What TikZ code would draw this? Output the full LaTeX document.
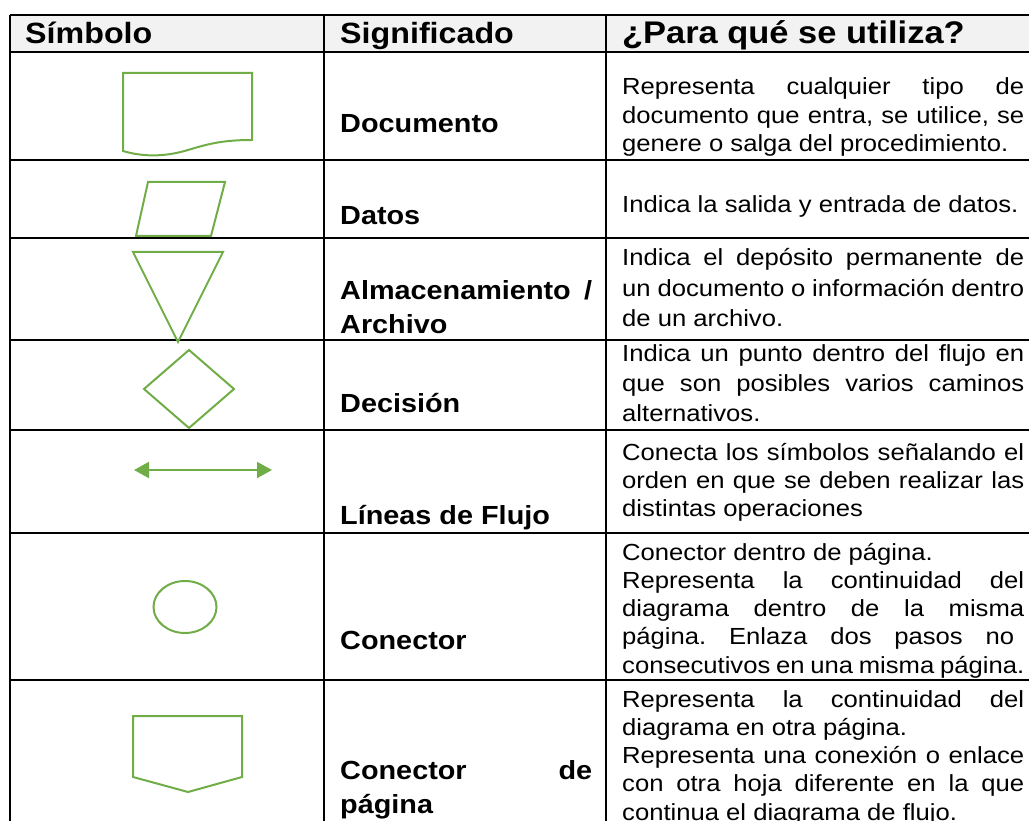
\documentclass[tikz,border=0pt]{standalone}
\usepackage{fontspec}
\setmainfont{Liberation Sans}[FakeStretch=1.10]
\usetikzlibrary{arrows.meta}
\definecolor{verde}{HTML}{70AD47}
\definecolor{gris}{HTML}{F2F2F2}
\hbadness=10000
\hyphenpenalty=10000
\frenchspacing
\begin{document}
\begin{tikzpicture}[x=1pt, y=-1pt,
    simbolo/.style={verde, line width=2pt},
    linea/.style={black, line width=2pt},
    cabecera/.style={anchor=base west, inner sep=0pt, font=\fontsize{29.3}{34}\selectfont\bfseries},
    nombre/.style={anchor=base west, inner sep=0pt, text width=252pt, align=justify, font=\fontsize{26.2}{34}\selectfont\bfseries},
    texto/.style={anchor=base west, inner sep=0pt, text width=402pt, align=justify, font=\fontsize{23.3}{28.3}\selectfont},
    texto ancho/.style={texto, font=\fontsize{23.3}{30.3}\selectfont}]
        % Definiciones
        \def\colA{10}
        \def\colB{324}
        \def\colC{606}
        \def\derecha{1029}
        \def\abajo{821}
        \def\xnombre{340}
        \def\xtexto{622}
        \useasboundingbox (0,0) rectangle (\derecha,\abajo);
        \clip (0,0) rectangle (\derecha,\abajo);
        % Cabecera
        \fill[gris] (\colA,15) rectangle (\derecha,52);
        \node[cabecera] (hSimbolo) at (25,44) {Símbolo};
        \node[cabecera] (hSignif) at (\xnombre,44) {Significado};
        \node[cabecera, font=\fontsize{31.3}{34}\selectfont\bfseries] (hUso) at (\xtexto,44) {¿Para qué se utiliza?};
        % Lineas de la tabla
        \draw[linea] (\colA,15) -- (\derecha,15);
        \draw[linea] (\colA,52) -- (\derecha,52);
        \draw[linea] (\colA,160) -- (\derecha,160);
        \draw[linea] (\colA,238) -- (\derecha,238);
        \draw[linea] (\colA,340) -- (\derecha,340);
        \draw[linea] (\colA,430) -- (\derecha,430);
        \draw[linea] (\colA,533) -- (\derecha,533);
        \draw[linea] (\colA,680) -- (\derecha,680);
        \draw[linea] (\colA,15) -- (\colA,\abajo);
        \draw[linea] (\colB,15) -- (\colB,\abajo);
        \draw[linea] (\colC,15) -- (\colC,\abajo);
        % Documento
        \draw[simbolo] (123,151) -- (123,73) -- (252,73) -- (252,140)
                       .. controls (222,140) and (208,144) .. (188,150)
                       .. controls (165,157) and (143,157) .. cycle;
        \node[nombre] (nDoc) at (\xnombre,133) {Documento};
        \node[texto] (tDoc) at (\xtexto,95) {Representa cualquier tipo de\linebreak
              documento que entra, se utilice, se\linebreak genere o salga del procedimiento.};
        % Datos
        \draw[simbolo] (148,182) -- (225,182) -- (211,236) -- (136,236) -- cycle;
        \node[nombre] (nDatos) at (\xnombre,225) {Datos};
        \node[texto] (tDatos) at (\xtexto,213) {Indica la salida y entrada de datos.};
        % Almacenamiento
        \draw[simbolo] (133,252) -- (223,252) -- (178,342) -- cycle;
        \node[nombre] (nAlmacen) at (\xnombre,300) {Almacenamiento /\linebreak Archivo};
        \node[texto ancho] (tAlmacen) at (\xtexto,266) {Indica el depósito permanente de\linebreak
              un documento o información dentro\linebreak de un archivo.};
        % Decision
        \draw[simbolo] (189,350) -- (234,389) -- (189,428) -- (144,389) -- cycle;
        \node[nombre] (nDecision) at (\xnombre,412) {Decisión};
        \node[texto ancho] (tDecision) at (\xtexto,361) {Indica un punto dentro del flujo en\linebreak
              que son posibles varios caminos\linebreak alternativos.};
        % Lineas de flujo
        \coordinate (flujoIzq) at (134,470);
        \coordinate (flujoDer) at (272,470);
        \draw[simbolo, {Triangle[length=15pt,width=16pt]}-{Triangle[length=15pt,width=16pt]}] (flujoIzq) -- (flujoDer);
        \node[nombre] (nFlujo) at (\xnombre,524) {Líneas de Flujo};
        \node[texto] (tFlujo) at (\xtexto,460) {Conecta los símbolos señalando el\linebreak
              orden en que se deben realizar las\linebreak distintas operaciones};
        % Conector
        \draw[simbolo] (185,607) ellipse (31.5 and 26);
        \node[nombre] (nConector) at (\xnombre,649) {Conector};
        \node[texto] (tConector) at (\xtexto,560) {Conector dentro de página.\\
              Representa la continuidad del\linebreak diagrama dentro de la misma\linebreak
              página. Enlaza dos pasos no\hspace*{10pt}\linebreak consecutivos en una misma página.};
        % Conector de pagina
        \draw[simbolo] (133,716) -- (242,716) -- (242,777) -- (188,792) -- (133,777) -- cycle;
        \node[nombre] (nPagina) at (\xnombre,779) {Conector de\linebreak página};
        \node[texto] (tPagina) at (\xtexto,707) {Representa la continuidad del\linebreak
              diagrama en otra página.\\ Representa una conexión o enlace\linebreak
              con otra hoja diferente en la que\linebreak continua el diagrama de flujo.};
    \end{tikzpicture}
\end{document}
